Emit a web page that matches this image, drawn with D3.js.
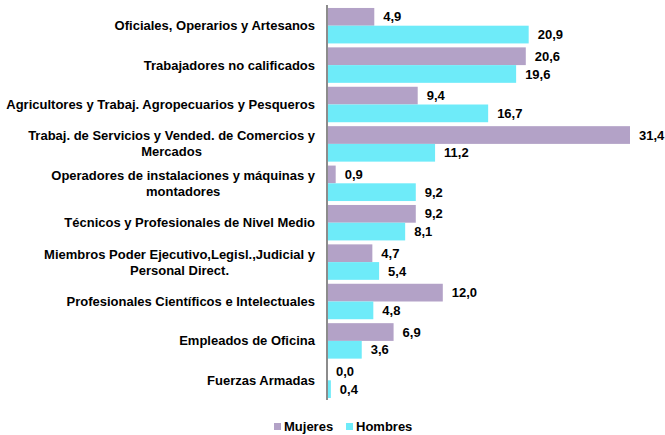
<!DOCTYPE html>
<html>
<head>
<meta charset="utf-8">
<script src="https://cdn.jsdelivr.net/npm/d3@7"></script>
<style>
  body { margin: 0; background: #fff; }
  text { font-family: "Liberation Sans", Arial, sans-serif; font-weight: bold; fill: #000; }
</style>
</head>
<body>
<div id="chart"></div>
<script>
const categories = [
  ["Oficiales, Operarios y Artesanos"],
  ["Trabajadores no calificados"],
  ["Agricultores y Trabaj. Agropecuarios y Pesqueros"],
  ["Trabaj. de Servicios y Vended. de Comercios y", "Mercados"],
  ["Operadores de instalaciones y máquinas y", "montadores"],
  ["Técnicos y Profesionales de Nivel Medio"],
  ["Miembros Poder Ejecutivo,Legisl.,Judicial y", "Personal Direct."],
  ["Profesionales Científicos e Intelectuales"],
  ["Empleados de Oficina"],
  ["Fuerzas Armadas"]
];
const mujeres = [4.9, 20.6, 9.4, 31.4, 0.9, 9.2, 4.7, 12.0, 6.9, 0.0];
const hombres = [20.9, 19.6, 16.7, 11.2, 9.2, 8.1, 5.4, 4.8, 3.6, 0.4];
const seriesNames = ["Mujeres", "Hombres"];
const colors = ["#B3A2C7", "#6EEBF9"];

const width = 665;
const height = 435;
const margin = {top: 6, bottom: 35, left: 327, right: 35};
const fontSize = 13;

const svg = d3.select("#chart")
  .append("svg")
  .attr("width", width)
  .attr("height", height);

const y = d3.scaleBand()
  .domain(d3.range(categories.length))
  .range([margin.top, height - margin.bottom])
  .paddingInner(0.1)
  .paddingOuter(0.05);

const sub = d3.scaleBand()
  .domain([0, 1])
  .range([0, y.bandwidth()]);

const x = d3.scaleLinear()
  .domain([0, 31.4])
  .range([margin.left, 630]);

const rows = d3.range(categories.length).map(i => [mujeres[i], hombres[i]]);
const fmt = v => d3.format(".1f")(v).replace(".", ",");

const groups = svg.append("g")
  .selectAll("g")
  .data(rows)
  .join("g")
  .attr("transform", (d, i) => `translate(0,${y(i)})`);

groups.selectAll("rect")
  .data(d => d)
  .join("rect")
  .attr("x", x(0))
  .attr("y", (d, j) => sub(j))
  .attr("width", d => x(d) - x(0))
  .attr("height", sub.bandwidth())
  .attr("fill", (d, j) => colors[j]);

groups.selectAll("text.val")
  .data(d => d)
  .join("text")
  .attr("class", "val")
  .attr("x", d => x(d) + 9)
  .attr("y", (d, j) => sub(j) + sub.bandwidth() / 2)
  .attr("dy", "0.35em")
  .attr("font-size", fontSize)
  .text(fmt);

// category labels: block right-aligned, lines centred on each other
const labelRight = 315;
const lineH = 16;
svg.append("g")
  .selectAll("text")
  .data(categories)
  .join("text")
  .attr("font-size", fontSize)
  .attr("text-anchor", "middle")
  .each(function(lines, i) {
    const t = d3.select(this);
    const cy = y(i) + y.bandwidth() / 2;
    const y0 = cy - (lines.length - 1) * lineH / 2;
    lines.forEach((l, k) => {
      t.append("tspan").attr("y", y0 + k * lineH).attr("dy", "0.35em").text(l);
    });
    const w = d3.max(t.selectAll("tspan").nodes(), n => n.getComputedTextLength());
    t.selectAll("tspan").attr("x", labelRight - w / 2);
  });

// axis line
svg.append("line")
  .attr("x1", x(0)).attr("x2", x(0))
  .attr("y1", margin.top - 1).attr("y2", height - margin.bottom)
  .attr("stroke", "#8C8C8C")
  .attr("stroke-width", 2);

// legend
const legend = svg.append("g").attr("transform", "translate(274,426)");
const lx = [0, 72];
seriesNames.forEach((s, j) => {
  legend.append("rect").attr("x", lx[j]).attr("y", -3).attr("width", 7).attr("height", 7).attr("fill", colors[j]);
  legend.append("text").attr("x", lx[j] + 10).attr("y", 0).attr("dy", "0.35em").attr("font-size", fontSize).text(s);
});
</script>
</body>
</html>
